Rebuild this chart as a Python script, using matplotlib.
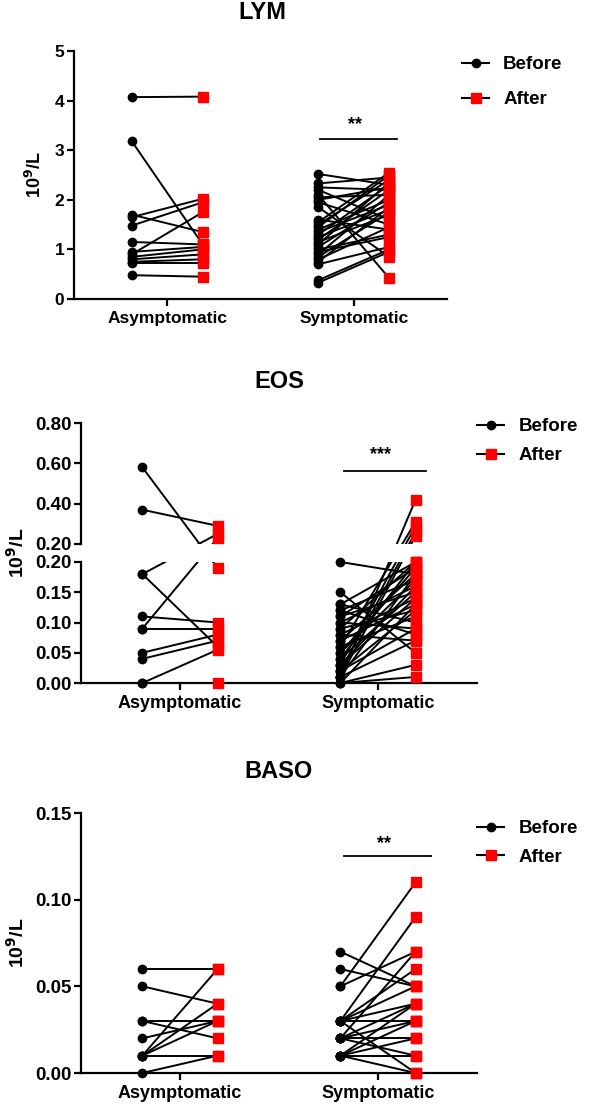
import numpy as np
import matplotlib
matplotlib.use("Agg")
import matplotlib.pyplot as plt
from matplotlib.lines import Line2D
from matplotlib.patches import Rectangle
from matplotlib.ticker import FixedLocator, FixedFormatter

plt.rcParams['font.family'] = ['Liberation Sans', 'DejaVu Sans']
plt.rcParams['font.weight'] = 'bold'
plt.rcParams['axes.labelweight'] = 'bold'

# ---------------- data ----------------
categories = ["Asymptomatic", "Symptomatic"]

lym_asym_before = [4.07, 3.18, 1.70, 1.65, 1.48, 1.15, 0.95, 0.90, 0.85, 0.80, 0.75, 0.72, 0.48]
lym_asym_after  = [4.08, 1.10, 1.35, 2.02, 1.95, 1.10, 1.05, 1.75, 1.00, 0.90, 0.80, 0.72, 0.45]
lym_sym_before = [2.52, 2.33, 2.25, 2.20, 2.10, 2.05, 1.95, 1.85, 1.55, 1.50, 1.40, 1.35, 1.30, 1.25, 1.20,
                  1.15, 1.10, 1.05, 1.00, 0.95, 0.90, 0.85, 0.80, 0.75, 0.70, 0.38, 0.33, 1.45, 1.60, 2.00]
lym_sym_after  = [2.30, 2.45, 2.20, 1.60, 0.42, 2.10, 1.50, 0.85, 2.55, 2.40, 2.00, 1.90, 2.30, 1.80, 2.20,
                  1.70, 2.35, 1.95, 1.30, 1.25, 2.10, 1.75, 1.45, 1.85, 1.05, 1.00, 0.95, 2.50, 1.40, 2.25]

eos_asym_before = [0.58, 0.37, 0.18, 0.18, 0.11, 0.09, 0.09, 0.05, 0.04, 0.00, 0.00]
eos_asym_after  = [0.19, 0.29, 0.25, 0.06, 0.10, 0.23, 0.09, 0.08, 0.07, 0.055, 0.00]
eos_sym_before = [0.20, 0.15, 0.13, 0.13, 0.12, 0.12, 0.11, 0.11, 0.10, 0.10, 0.09, 0.09, 0.08, 0.08, 0.07,
                  0.07, 0.06, 0.06, 0.05, 0.05, 0.04, 0.04, 0.03, 0.03, 0.03, 0.02, 0.02, 0.02, 0.01, 0.01,
                  0.01, 0.00, 0.00, 0.00, 0.01]
eos_sym_after  = [0.18, 0.05, 0.20, 0.10, 0.17, 0.08, 0.19, 0.15, 0.16, 0.09, 0.20, 0.12, 0.14, 0.07, 0.18,
                  0.13, 0.11, 0.31, 0.19, 0.17, 0.20, 0.15, 0.29, 0.16, 0.14, 0.12, 0.26, 0.09, 0.42, 0.18,
                  0.07, 0.03, 0.01, 0.13, 0.24]

baso_asym_before = [0.06, 0.05, 0.03, 0.03, 0.02, 0.01, 0.01, 0.01, 0.01, 0.00]
baso_asym_after  = [0.06, 0.04, 0.03, 0.02, 0.03, 0.06, 0.04, 0.03, 0.01, 0.01]
baso_sym_before = [0.07, 0.06, 0.05, 0.05, 0.03, 0.03, 0.03, 0.03, 0.03, 0.02, 0.02, 0.02, 0.02, 0.02,
                   0.01, 0.01, 0.01, 0.01, 0.01, 0.03]
baso_sym_after  = [0.05, 0.05, 0.11, 0.07, 0.09, 0.06, 0.04, 0.03, 0.00, 0.07, 0.04, 0.03, 0.02, 0.01,
                   0.04, 0.03, 0.02, 0.01, 0.00, 0.05]

lym_ticks = [0, 1, 2, 3, 4, 5]
eos_ticks = [0.0, 0.05, 0.10, 0.15, 0.20, 0.20 + 1e-9, 0.40, 0.60, 0.80]
eos_tick_labels = ["0.00", "0.05", "0.10", "0.15", "0.20", "0.20", "0.40", "0.60", "0.80"]
baso_ticks = [0.0, 0.05, 0.10, 0.15]

# significance annotations: (x-span, line y, star y, label)
lym_sig = ([0.82, 1.23], 3.23, 3.52, "**")
eos_sig = ([0.83, 1.24], 0.562, 0.645, "***")
baso_sig = ([0.826, 1.27], 0.125, 0.1325, "**")

# ---------------- drawing ----------------
W, H = 600, 1107
fig = plt.figure(figsize=(W / 100, H / 100), dpi=100)

def rect(l, t, r, b):
    return [l / W, 1 - b / H, (r - l) / W, (b - t) / H]

OFF = 0.19

def draw_pairs(ax, ci, before, after):
    xb, xa = ci - OFF, ci + OFF
    for b, a in zip(before, after):
        ax.plot([xb, xa], [b, a], color='black', lw=1.4, zorder=2, solid_capstyle='round')
    ax.plot([xb] * len(before), before, 'o', color='black', ms=6, zorder=4, clip_on=False)
    ax.plot([xa] * len(after), after, 's', color='#ff0000', mec='#ff0000', ms=7, zorder=4, clip_on=False)

def style(ax, ticklabelsize, xlabelsize):
    for s in ['top', 'right']:
        ax.spines[s].set_visible(False)
    for s in ['left', 'bottom']:
        ax.spines[s].set_linewidth(1.6)
    ax.tick_params(axis='y', width=1.6, length=5, labelsize=ticklabelsize, pad=2)
    ax.tick_params(axis='x', width=1.6, length=5, labelsize=xlabelsize, pad=4)
    ax.set_xticks([0, 1])
    ax.set_xticklabels(categories)
    ax.set_xlim(-0.5, 1.5)

def legend(ax, x, y, fs, spacing):
    handles = [Line2D([], [], color='black', lw=1.5, marker='o', ms=6, mfc='black', mec='black'),
               Line2D([], [], color='black', lw=1.5, marker='s', ms=7, mfc='#ff0000', mec='#ff0000')]
    ax.legend(handles, ["Before", "After"], loc='upper left', bbox_to_anchor=(x / W, 1 - y / H),
              bbox_transform=fig.transFigure, frameon=False, fontsize=fs, handlelength=1.45,
              handletextpad=0.75, borderpad=0, borderaxespad=0, labelspacing=spacing)

def sig(ax, spec):
    xs, ly, sy, lab = spec
    ax.plot(xs, [ly, ly], color='black', lw=1.3, zorder=3)
    ax.text(np.mean(xs) - 0.02, sy, lab, ha='center', va='center', fontsize=13, fontweight='bold')

# LYM
ax1 = fig.add_axes(rect(74, 51, 447, 299))
draw_pairs(ax1, 0, lym_asym_before, lym_asym_after)
draw_pairs(ax1, 1, lym_sym_before, lym_sym_after)
ax1.set_ylim(0, 5)
ax1.set_yticks(lym_ticks)
style(ax1, 12.5, 12.5)
ax1.set_ylabel("10$^{\\mathbf{9}}$/L", fontsize=13)
ax1.yaxis.set_label_coords(-0.077, 0.5)
ax1.text(0.504, 1.155, "LYM", transform=ax1.transAxes, ha='center', va='center', fontsize=17, fontweight='bold')
sig(ax1, lym_sig)
legend(ax1, 462, 56, 13.5, 0.95)

# EOS (broken axis via piecewise function scale)
LOW, GAP, UP = 121.0, 18.0, 121.0

def fwd(y):
    y = np.asarray(y, float)
    return np.where(y <= 0.2, y / 0.2 * LOW, LOW + GAP + (y - 0.2) / 0.6 * UP)

def inv(t):
    t = np.asarray(t, float)
    return np.where(t <= LOW, t / LOW * 0.2,
                    np.where(t < LOW + GAP, 0.2, 0.2 + (t - LOW - GAP) / UP * 0.6))

ax2 = fig.add_axes(rect(81, 423, 477, 683))
ax2.set_yscale('function', functions=(fwd, inv))
draw_pairs(ax2, 0, eos_asym_before, eos_asym_after)
draw_pairs(ax2, 1, eos_sym_before, eos_sym_after)
ax2.set_ylim(0, 0.8)
ax2.yaxis.set_major_locator(FixedLocator(eos_ticks))
ax2.yaxis.set_major_formatter(FixedFormatter(eos_tick_labels))
ax2.yaxis.set_minor_locator(FixedLocator([]))
style(ax2, 13.5, 13)
TOT = LOW + GAP + UP
ax2.add_patch(Rectangle((0, LOW / TOT), 1.02, GAP / TOT, transform=ax2.transAxes,
                        facecolor='white', edgecolor='none', zorder=3, clip_on=False))
ax2.spines['left'].set_visible(False)
for y0, y1 in [(0, LOW / TOT), ((LOW + GAP) / TOT, 1)]:
    ax2.add_line(Line2D([0, 0], [y0, y1], transform=ax2.transAxes, color='black', lw=1.6,
                        clip_on=False, zorder=5, solid_capstyle='projecting'))
ax2.set_ylabel("10$^{\\mathbf{9}}$/L", fontsize=14)
ax2.yaxis.set_label_coords(-0.135, 0.5)
ax2.text(0.5, 1.158, "EOS", transform=ax2.transAxes, ha='center', va='center', fontsize=17, fontweight='bold')
sig(ax2, eos_sig)
legend(ax2, 477, 418, 13.5, 0.65)

# BASO
ax3 = fig.add_axes(rect(81, 813, 477, 1073))
draw_pairs(ax3, 0, baso_asym_before, baso_asym_after)
draw_pairs(ax3, 1, baso_sym_before, baso_sym_after)
ax3.set_ylim(0, 0.15)
ax3.set_yticks(baso_ticks)
ax3.set_yticklabels([f"{v:.2f}" for v in baso_ticks])
style(ax3, 13.5, 13)
ax3.set_ylabel("10$^{\\mathbf{9}}$/L", fontsize=14)
ax3.yaxis.set_label_coords(-0.135, 0.5)
ax3.text(0.5, 1.158, "BASO", transform=ax3.transAxes, ha='center', va='center', fontsize=17, fontweight='bold')
sig(ax3, baso_sig)
legend(ax3, 477, 820, 13.5, 0.6)

fig.savefig("out.png", dpi=100)
